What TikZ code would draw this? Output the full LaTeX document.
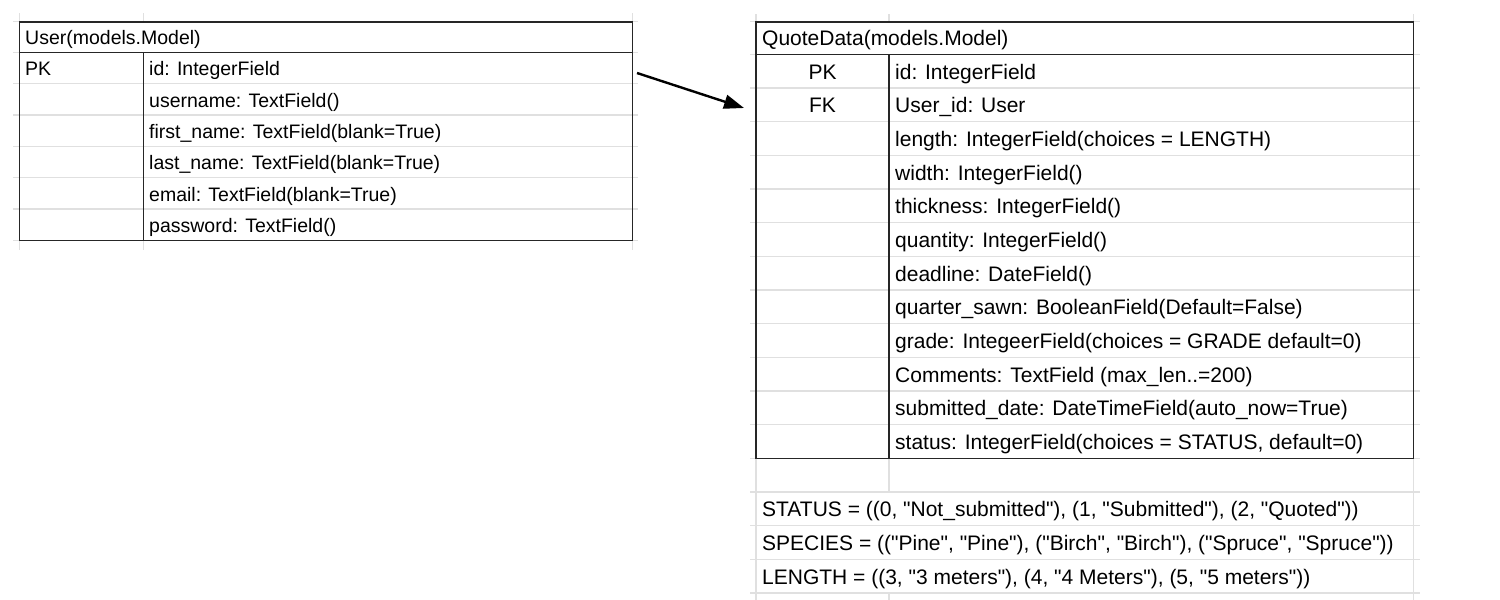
\documentclass[tikz,border=0pt]{standalone}
\usepackage{fontspec}
\newfontfamily\lsans{Liberation Sans}
\usetikzlibrary{arrows.meta}
\begin{document}
\begin{tikzpicture}[x=1pt,y=-1pt,
  gridln/.style={draw=black!12,line width=1.2pt},
  border/.style={draw=black!85,line width=1.6pt},
  ltxt/.style={anchor=base west,inner sep=0pt,font=\lsans\fontsize{19.5}{22}\selectfont},
  rtxt/.style={anchor=base west,inner sep=0pt,font=\lsans\fontsize{21}{24}\selectfont},
  rkey/.style={anchor=base,inner sep=0pt,font=\lsans\fontsize{21}{24}\selectfont},
  conn/.style={line width=2.4pt,-{Triangle[length=20pt,width=14pt]}}]
\useasboundingbox[fill=white] (0,0) rectangle (1500,600);

% ---------- User table: spreadsheet grid ----------
\foreach \y in {21.7,52.3,83.6,115,146.3,177.6,209,240.3}
  \draw[gridln] (13,\y) -- (638,\y);
\foreach \x in {19.3,143.3,632.3} {
  \draw[gridln] (\x,13) -- (\x,21.7);
  \draw[gridln] (\x,240.3) -- (\x,250);
}
% borders
\draw[border] (19.3,21.7) rectangle (632.3,240.3);
\draw[border] (19.3,52.3) -- (632.3,52.3);
\draw[border] (143.3,52.3) -- (143.3,240.3);

% texts
\node[ltxt] (uh) at (25,44.3) {User(models.Model)};
\node[ltxt] (upk) at (25,75.6) {PK};
\node[ltxt] (u1) at (149,75.6) {id: IntegerField};
\node[ltxt] (u2) at (149,107) {username: TextField()};
\node[ltxt] (u3) at (149,138.3) {first\_name: TextField(blank=True)};
\node[ltxt] (u4) at (149,169.6) {last\_name: TextField(blank=True)};
\node[ltxt] (u5) at (149,201) {email: TextField(blank=True)};
\node[ltxt] (u6) at (149,232.3) {password: TextField()};

% ---------- QuoteData table: spreadsheet grid ----------
\foreach \y in {21.7,54.3,88.0,121.6,155.3,189.0,222.6,256.3,290.0,323.7,357.3,391.0,424.7,458.3,492,525.7,559.3,593}
  \draw[gridln] (750,\y) -- (1420,\y);
\foreach \x in {756,889,1413.3}
  \draw[gridln] (\x,14) -- (\x,21.7);
\foreach \x in {756,1413.3}
  \draw[gridln] (\x,458.3) -- (\x,600);
\draw[gridln] (889,458.3) -- (889,492);
\draw[gridln] (889,593) -- (889,600);
% borders
\draw[border] (756,21.7) rectangle (1413.3,458.3);
\draw[border] (756,54.3) -- (1413.3,54.3);
\draw[border] (889,54.3) -- (889,458.3);

% texts
\node[rtxt] (qh) at (762,45.3) {QuoteData(models.Model)};
\node[rkey] (qpk) at (822.5,79) {PK};
\node[rkey] (qfk) at (822.5,112.6) {FK};
\node[rtxt] (q1) at (895,79) {id: IntegerField};
\node[rtxt] (q2) at (895,112.6) {User\_id: User};
\node[rtxt] (q3) at (895,146.3) {length: IntegerField(choices = LENGTH)};
\node[rtxt] (q4) at (895,180) {width: IntegerField()};
\node[rtxt] (q5) at (895,213.6) {thickness: IntegerField()};
\node[rtxt] (q6) at (895,247.3) {quantity: IntegerField()};
\node[rtxt] (q7) at (895,281) {deadline: DateField()};
\node[rtxt] (q8) at (895,314.7) {quarter\_sawn: BooleanField(Default=False)};
\node[rtxt] (q9) at (895,348.3) {grade: IntegeerField(choices = GRADE default=0)};
\node[rtxt] (q10) at (895,382) {Comments: TextField (max\_len..=200)};
\node[rtxt] (q11) at (895,415.7) {submitted\_date: DateTimeField(auto\_now=True)};
\node[rtxt] (q12) at (895,449.3) {status: IntegerField(choices = STATUS, default=0)};

\node[rtxt] (c1) at (762,516.7) {STATUS = ((0, "Not\_submitted"), (1, "Submitted"), (2, "Quoted"))};
\node[rtxt] (c2) at (762,550.3) {SPECIES = (("Pine", "Pine"), ("Birch", "Birch"), ("Spruce", "Spruce"))};
\node[rtxt] (c3) at (762,584) {LENGTH = ((3, "3 meters"), (4, "4 Meters"), (5, "5 meters"))};

% ---------- relation arrow ----------
\coordinate (as) at (637,73);
\coordinate (ae) at (744,108);
\draw[conn] (as) -- (ae);
\end{tikzpicture}
\end{document}
